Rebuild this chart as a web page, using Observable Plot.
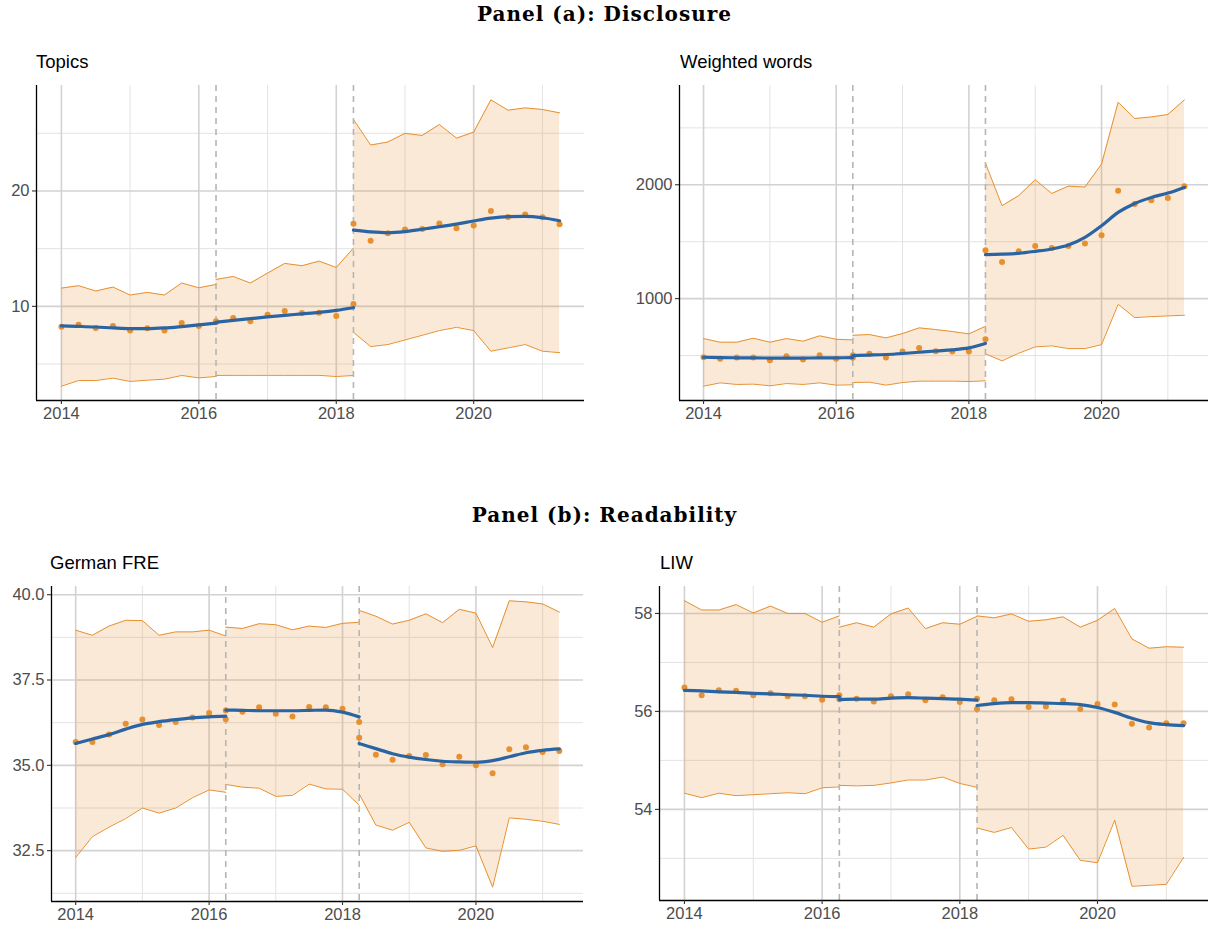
<!DOCTYPE html>
<html>
<head>
<meta charset="utf-8">
<script src="https://cdn.jsdelivr.net/npm/d3@7"></script>
<script src="https://cdn.jsdelivr.net/npm/@observablehq/plot@0.6"></script>
<style>
  html, body { margin: 0; padding: 0; background: #fff; }
  #root { position: relative; width: 1209px; height: 930px; overflow: hidden; }
  .ptitle { position: absolute; width: 1209px; left: 0; text-align: center; font-family: "DejaVu Serif", "Liberation Serif", serif; font-weight: bold; font-size: 20px; letter-spacing: 1px; color: #000; }
  .stitle { position: absolute; font-family: "Liberation Sans", Arial, sans-serif; font-size: 18.5px; color: #000; }
  .panel { position: absolute; }
</style>
</head>
<body>
<div id="root"></div>
<script>
// ---------- data ----------
const quarters = [2014.00, 2014.25, 2014.50, 2014.75, 2015.00, 2015.25, 2015.50, 2015.75, 2016.00, 2016.25,
  2016.50, 2016.75, 2017.00, 2017.25, 2017.50, 2017.75, 2018.00, 2018.25, 2018.50, 2018.75,
  2019.00, 2019.25, 2019.50, 2019.75, 2020.00, 2020.25, 2020.50, 2020.75, 2021.00, 2021.25];
const segmentStart = [0, 9, 17];          // first quarter of each regime
const regimeBreaks = [2016.25, 2018.25];
const xTicks = [2014, 2016, 2018, 2020];
const xMinor = [2015, 2017, 2019, 2021];

const topicsPoints = [
  [8.24, 8.41, 8.13, 8.30, 7.90, 8.10, 7.90, 8.56, 8.30, 8.70],
  [8.62, 8.99, 8.70, 9.28, 9.60, 9.42, 9.45, 9.16, 10.20],
  [17.15, 15.68, 16.34, 16.66, 16.71, 17.18, 16.77, 17.00, 18.27, 17.75, 17.95, 17.72, 17.12]
];
const topicsUpper = [
  [11.58, 11.79, 11.33, 11.67, 10.98, 11.21, 10.98, 12.02, 11.61, 11.90],
  [12.33, 12.59, 12.02, 12.88, 13.72, 13.52, 13.92, 13.37, 15.04],
  [26.20, 23.98, 24.24, 24.99, 24.81, 25.76, 24.58, 25.10, 27.90, 27.00, 27.20, 27.06, 26.77]
];
const topicsLower = [
  [3.08, 3.57, 3.57, 3.78, 3.49, 3.60, 3.69, 4.01, 3.80, 3.92],
  [4.01, 4.02, 4.02, 4.02, 4.02, 4.02, 4.02, 3.92, 4.01],
  [7.75, 6.51, 6.69, 7.09, 7.49, 7.90, 8.18, 7.90, 6.11, 6.40, 6.69, 6.11, 5.99]
];
const topicsSmooth = [
  [8.30, 8.26, 8.21, 8.13, 8.07, 8.07, 8.13, 8.25, 8.39, 8.55],
  [8.62, 8.78, 8.93, 9.08, 9.22, 9.35, 9.48, 9.65, 9.88],
  [16.60, 16.45, 16.38, 16.48, 16.68, 16.90, 17.12, 17.40, 17.65, 17.78, 17.80, 17.68, 17.42]
];

const wordsPoints = [
  [485, 471, 482, 482, 459, 494, 465, 503, 471, 481],
  [503, 515, 482, 535, 567, 538, 535, 535, 643],
  [1424, 1322, 1415, 1462, 1444, 1462, 1485, 1556, 1947, 1830, 1865, 1883, 1988]
];
const wordsUpper = [
  [649, 617, 617, 652, 617, 649, 626, 673, 643, 637],
  [678, 684, 655, 693, 743, 728, 711, 690, 757],
  [2190, 1816, 1904, 2044, 1924, 1988, 1980, 2181, 2725, 2582, 2596, 2617, 2746]
];
const wordsLower = [
  [231, 260, 246, 249, 234, 254, 246, 260, 240, 243],
  [263, 266, 240, 263, 275, 275, 275, 272, 278],
  [515, 453, 520, 576, 585, 561, 561, 596, 950, 833, 842, 848, 854]
];
const wordsSmooth = [
  [485, 482, 480, 479, 478, 478, 478, 479, 480, 482],
  [500, 504, 509, 518, 529, 540, 550, 567, 605],
  [1386, 1390, 1398, 1415, 1436, 1471, 1538, 1640, 1757, 1836, 1889, 1927, 1977]
];

const frePoints = [
  [35.68, 35.68, 35.90, 36.22, 36.34, 36.18, 36.27, 36.40, 36.53, 36.35],
  [36.61, 36.57, 36.70, 36.51, 36.43, 36.71, 36.70, 36.66, 36.27],
  [35.81, 35.31, 35.16, 35.27, 35.30, 35.03, 35.25, 35.00, 34.77, 35.47, 35.53, 35.39, 35.42]
];
const freUpper = [
  [38.96, 38.81, 39.08, 39.25, 39.24, 38.81, 38.91, 38.91, 38.96, 38.79],
  [39.05, 39.01, 39.15, 39.12, 38.97, 39.08, 39.04, 39.16, 39.19],
  [39.54, 39.37, 39.14, 39.25, 39.44, 39.18, 39.57, 39.46, 38.45, 39.82, 39.79, 39.73, 39.49]
];
const freLower = [
  [32.30, 32.91, 33.19, 33.44, 33.75, 33.60, 33.75, 34.05, 34.28, 34.21],
  [34.44, 34.36, 34.33, 34.09, 34.12, 34.45, 34.31, 34.30, 33.83],
  [34.16, 33.25, 33.10, 33.33, 32.58, 32.48, 32.51, 32.64, 31.43, 33.46, 33.42, 33.36, 33.27]
];
const freSmooth = [
  [35.64, 35.77, 35.90, 36.06, 36.20, 36.28, 36.34, 36.39, 36.42, 36.44],
  [36.62, 36.61, 36.60, 36.60, 36.60, 36.61, 36.62, 36.56, 36.42],
  [35.64, 35.49, 35.34, 35.24, 35.17, 35.12, 35.10, 35.09, 35.14, 35.25, 35.37, 35.44, 35.48]
];

const liwPoints = [
  [56.49, 56.33, 56.43, 56.42, 56.33, 56.37, 56.31, 56.31, 56.24, 56.33],
  [56.25, 56.26, 56.20, 56.31, 56.35, 56.23, 56.29, 56.19, 56.26],
  [56.05, 56.23, 56.25, 56.09, 56.10, 56.22, 56.05, 56.15, 56.14, 55.75, 55.67, 55.76, 55.76]
];
const liwUpper = [
  [58.26, 58.07, 58.07, 58.18, 58.01, 58.15, 58.00, 58.00, 57.82, 57.95],
  [57.72, 57.81, 57.72, 57.99, 58.11, 57.69, 57.81, 57.78, 57.94],
  [57.95, 57.91, 57.99, 57.84, 57.87, 57.93, 57.72, 57.86, 58.10, 57.48, 57.29, 57.32, 57.31]
];
const liwLower = [
  [54.33, 54.24, 54.33, 54.28, 54.30, 54.32, 54.34, 54.32, 54.44, 54.46],
  [54.49, 54.48, 54.49, 54.54, 54.60, 54.60, 54.66, 54.53, 54.45],
  [53.62, 53.53, 53.63, 53.19, 53.23, 53.47, 52.96, 52.91, 53.78, 52.43, 52.45, 52.47, 53.02]
];
const liwSmooth = [
  [56.43, 56.42, 56.40, 56.39, 56.37, 56.36, 56.34, 56.33, 56.31, 56.30],
  [56.24, 56.25, 56.25, 56.27, 56.28, 56.27, 56.26, 56.25, 56.23],
  [56.12, 56.16, 56.18, 56.18, 56.17, 56.16, 56.14, 56.08, 55.98, 55.86, 55.77, 55.73, 55.71]
];

const panelTitles = ["Panel (a): Disclosure", "Panel (b): Readability"];

// ---------- build ----------
const root = document.getElementById("root");
function addText(cls, txt, left, top) {
  const d = document.createElement("div");
  d.className = cls; d.textContent = txt;
  if (left !== null) d.style.left = left + "px";
  d.style.top = top + "px";
  root.appendChild(d);
}

function rowsOf(points, upper, lower, smooth) {
  const rows = [];
  points.forEach((seg, s) => seg.forEach((v, j) => {
    rows.push({x: quarters[segmentStart[s] + j], seg: s, v, hi: upper[s][j], lo: lower[s][j], sm: smooth[s][j]});
  }));
  return rows;
}

const ORANGE = "#e8902f";
function panel(cfg) {
  const rows = rowsOf(cfg.points, cfg.upper, cfg.lower, cfg.smooth);
  const xDomain = [2013.6375, 2021.6125];
  const mt = 10, mb = 32;
  const width = cfg.right - cfg.left + cfg.ml + cfg.mr;
  const height = cfg.bottom - cfg.top + mt + mb;
  const p = Plot.plot({
    width, height,
    marginLeft: cfg.ml, marginRight: cfg.mr, marginTop: mt, marginBottom: mb,
    style: {fontFamily: "'Liberation Sans', Arial, sans-serif", fontSize: "16.5px", color: "#4d4d4d", background: "transparent", overflow: "visible"},
    x: {domain: xDomain},
    y: {domain: cfg.yDomain},
    marks: [
      Plot.ruleX(xMinor, {stroke: "#e3e3e3", strokeWidth: 1}),
      Plot.ruleY(cfg.yMinor, {stroke: "#e3e3e3", strokeWidth: 1}),
      Plot.ruleX(xTicks, {stroke: "#d2d2d2", strokeWidth: 1.6}),
      Plot.ruleY(cfg.yTicks, {stroke: "#d2d2d2", strokeWidth: 1.6}),
      Plot.areaY(rows, {x: "x", y1: "lo", y2: "hi", z: "seg", fill: "#e69138", fillOpacity: 0.2}),
      Plot.line(rows, {x: "x", y: "hi", z: "seg", stroke: ORANGE, strokeWidth: 1}),
      Plot.line(rows, {x: "x", y: "lo", z: "seg", stroke: ORANGE, strokeWidth: 1}),
      Plot.ruleX(regimeBreaks, {stroke: "#b5b5b5", strokeWidth: 1.6, strokeDasharray: "6,5"}),
      Plot.dot(rows, {x: "x", y: "v", r: 3, fill: ORANGE, stroke: "none"}),
      Plot.line(rows, {x: "x", y: "sm", z: "seg", stroke: "#2a64a2", strokeWidth: 3.2, curve: "monotone-x"}),
      Plot.ruleY([cfg.yDomain[0]], {stroke: "#000", strokeWidth: 1.3}),
      Plot.ruleX([xDomain[0]], {stroke: "#000", strokeWidth: 1.3}),
      Plot.axisX({ticks: xTicks, tickFormat: d => String(d), tickSize: 4, tickPadding: 3, stroke: "#333", strokeWidth: 1.1, label: null}),
      Plot.axisY({ticks: cfg.yTicks, tickFormat: cfg.fmt, tickSize: 4, tickPadding: 3, stroke: "#333", strokeWidth: 1.1, label: null})
    ]
  });
  p.classList.add("panel");
  p.style.left = (cfg.left - cfg.ml) + "px";
  p.style.top = (cfg.top - mt) + "px";
  root.appendChild(p);
  addText("stitle", cfg.title, cfg.titleX, cfg.top - 34);
}

addText("ptitle", panelTitles[0], null, 2);
addText("ptitle", panelTitles[1], null, 503);

panel({title: "Topics", titleX: 36, left: 36, right: 584, top: 85, bottom: 400, ml: 36, mr: 16,
  yDomain: [1.84, 29.14], yTicks: [10, 20], yMinor: [5, 15, 25], fmt: d => String(d),
  points: topicsPoints, upper: topicsUpper, lower: topicsLower, smooth: topicsSmooth});
panel({title: "Weighted words", titleX: 680, left: 679, right: 1208, top: 85, bottom: 400, ml: 60, mr: 1,
  yDomain: [105, 2872], yTicks: [1000, 2000], yMinor: [500, 1500, 2500], fmt: d => String(d),
  points: wordsPoints, upper: wordsUpper, lower: wordsLower, smooth: wordsSmooth});
panel({title: "German FRE", titleX: 50, left: 51, right: 583, top: 586, bottom: 901, ml: 51, mr: 17,
  yDomain: [31.01, 40.24], yTicks: [32.5, 35, 37.5, 40], yMinor: [31.25, 33.75, 36.25, 38.75], fmt: d3.format(".1f"),
  points: frePoints, upper: freUpper, lower: freLower, smooth: freSmooth});
panel({title: "LIW", titleX: 660, left: 659, right: 1208, top: 586, bottom: 900, ml: 60, mr: 1,
  yDomain: [52.14, 58.55], yTicks: [54, 56, 58], yMinor: [53, 55, 57], fmt: d => String(d),
  points: liwPoints, upper: liwUpper, lower: liwLower, smooth: liwSmooth});
</script>
</body>
</html>
